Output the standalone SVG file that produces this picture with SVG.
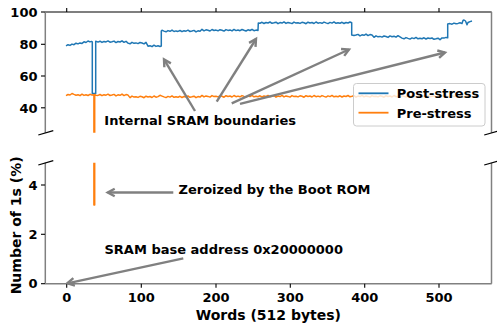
<svg xmlns="http://www.w3.org/2000/svg" width="497" height="327" viewBox="0 0 497 327">
<style>
text{font-family:"DejaVu Sans","Liberation Sans",sans-serif;font-weight:bold;fill:#000}
.tk{font-size:13px}
.tky{font-size:13px;text-anchor:end}
.tkx{font-size:13px;text-anchor:middle}
.ann{font-size:13px}
.lab{font-size:14px;text-anchor:middle}
.spg{stroke:#808080;stroke-width:1.5;fill:none}
.spk{stroke:#000;stroke-width:1.2;fill:none}
.tick{stroke:#000;stroke-width:1.1}
.brk{stroke:#000;stroke-width:1.2}
.blue{stroke:#1f77b4;stroke-width:1.5;fill:none;stroke-linejoin:round}
.orange{stroke:#ff7f0e;stroke-width:1.5;fill:none;stroke-linejoin:round}
.arr{stroke:#808080;stroke-width:2.4;fill:none;marker-end:url(#head)}
</style>
<defs>
<clipPath id="clipTop"><rect x="45" y="12" width="446.7" height="120.8"/></clipPath>
<clipPath id="clipBot"><rect x="45" y="162.8" width="446.7" height="121"/></clipPath>
<marker id="head" markerUnits="userSpaceOnUse" markerWidth="14" markerHeight="12" refX="0" refY="0" viewBox="-9 -6 11 12" orient="auto">
<path d="M-7,-3.8 L0,0 L-7,3.8" stroke="#808080" stroke-width="2.4" fill="none"/>
</marker>
</defs>
<rect width="497" height="327" fill="#fff"/>

<g id="top-axis">
<g clip-path="url(#clipTop)">
<polyline class="blue" points="66,45.8 68,44.7 70,45.4 72,44.1 74,44.7 76,43.2 78,43.9 80,42.9 82,43.4 84,41.8 86,42.5 88,41.0 90,41.9 91.5,41.4 92.3,41.8 92.3,93.5 95.7,93.5 95.7,41.2 97,41.6 98,42.1 100,41.2 102,42.4 104,41.4 106,41.9 108,40.9 110,42.2 112,41.7 114,41.1 116,42.6 118,41.5 120,42.0 122,40.8 124,42.3 126,41.3 128,43.1 130,43.8 132,42.3 134,43.3 136,42.9 138,43.6 140,42.5 142,43.0 144,43.9 146,42.4 148,46.2 150,45.7 152,46.7 154,45.2 156,46.4 158,45.8 160,46.5 161.3,46.0 161.3,31.0 162,30.3 164,31.1 166,31.8 168,30.6 170,31.3 172,30.1 174,31.5 176,30.9 178,31.4 180,30.5 182,31.7 184,30.7 186,31.2 188,30.2 190,31.5 192,31.0 194,30.4 196,31.9 198,30.8 200,31.3 202,29.3 204,30.8 206,29.8 208,30.3 210,31.0 212,29.5 214,30.5 216,30.1 218,30.8 220,29.7 222,30.2 224,31.1 226,29.6 228,30.4 230,29.9 232,30.9 234,29.4 236,30.6 238,30.0 240,30.7 242,29.5 244,30.3 246,31.0 248,29.8 250,30.5 252,29.3 254,30.7 256,30.1 258,30.4 258.3,23.0 260,23.2 262,22.3 264,23.5 266,22.5 268,23.0 270,22.0 272,23.3 274,22.8 276,22.2 278,23.7 280,22.6 282,23.1 284,21.9 286,23.4 288,22.4 290,22.9 292,23.6 294,22.1 296,23.1 298,22.7 300,23.4 302,22.3 304,22.8 306,23.7 308,22.2 310,23.0 312,22.5 314,23.5 316,22.0 318,23.2 320,22.6 322,23.3 324,22.1 326,22.9 328,23.6 330,22.4 332,23.1 334,21.9 336,23.3 338,22.7 340,23.2 342,22.3 344,23.5 346,22.5 348,23.0 350,22.0 351.7,22.8 351.7,35.0 354,35.5 356,35.0 358,34.4 360,35.9 362,34.8 364,35.3 366,34.1 368,35.6 370,34.6 372,35.1 374,37.3 376,35.8 378,36.8 380,36.4 382,37.1 384,36.0 386,36.5 388,37.4 390,35.9 392,36.7 394,36.2 396,37.2 398,35.7 400,36.9 402,38.1 404,38.8 406,37.6 408,38.4 410,39.1 412,37.9 414,38.6 416,37.4 418,38.8 420,38.2 422,38.7 424,37.8 426,39.0 428,38.0 430,38.5 432,38.0 434,39.3 436,38.8 438,38.2 440,39.7 442,37.9 444,38.1 446,37.4 447.7,37.8 447.7,24.0 450,23.6 452,24.2 454,23.1 456,23.8 458,23.4 460,22.8 462,23.5 463,20.5 464,20.0 465.5,21.0 467,24.8 468,22.5 470,21.6 472,21.0"/>
<polyline class="orange" points="66,95.6 68,94.5 70,95.0 72,93.5 74,94.4 76,95.2 78,94.7 80,95.7 82,94.2 84,95.4 86,94.8 88,95.5 90,94.3 92,95.1 93.5,94.8 93.9,95 93.9,140 94.7,140 94.7,94.5 96,95.3 98,95.4 100,94.5 102,95.7 104,94.7 106,95.2 108,94.2 110,95.5 112,95.0 114,94.4 116,95.9 118,94.8 120,95.3 122,94.1 124,95.6 126,94.6 128,95.1 130,97.6 132,96.1 134,97.1 136,96.7 138,97.4 140,96.3 142,96.8 144,97.7 146,96.2 148,97.0 150,96.5 152,97.5 154,96.0 156,97.2 158,96.6 160,95.3 162,96.1 164,96.9 166,97.6 168,96.4 170,97.1 172,95.9 174,97.3 176,96.7 178,97.2 180,96.3 182,97.5 184,96.5 186,97.0 188,96.0 190,97.3 192,96.8 194,96.2 196,97.7 198,96.6 200,97.1 202,95.4 204,96.9 206,95.9 208,96.4 210,97.1 212,95.6 214,96.6 216,96.2 218,96.9 220,95.8 222,96.3 224,97.2 226,95.7 228,96.5 230,96.0 232,97.0 234,95.5 236,96.7 238,96.1 240,96.8 242,95.6 244,96.4 246,97.1 248,95.9 250,96.6 252,95.4 254,96.8 256,96.2 258,96.7 260,95.8 262,97.0 264,96.0 266,96.5 268,95.5 270,96.8 272,96.3 274,95.7 276,97.2 278,96.1 280,96.6 282,95.4 284,96.9 286,95.9 288,96.4 290,97.1 292,95.6 294,96.6 296,96.2 298,96.9 300,95.8 302,96.3 304,97.2 306,95.7 308,96.5 310,96.0 312,97.0 314,95.5 316,96.7 318,96.1 320,96.8 322,95.6 324,96.4 326,97.1 328,95.9 330,96.6 332,95.4 334,96.8 336,96.2 338,96.7 340,95.8 342,97.0 344,96.0 346,96.5 348,95.5 350,96.8 352,96.3 354,95.7 356,97.2 358,96.1 360,96.6 362,95.4 364,96.9 366,95.9 368,96.4 370,97.1 372,95.6 374,96.6 376,96.2 378,96.9 380,95.8 382,96.3 384,97.2 386,95.7 388,96.5 390,96.0 392,97.0 394,95.5 396,96.7 398,96.1 400,96.8 402,95.6 404,96.4 406,97.1 408,95.9 410,96.6 412,95.4 414,96.8 416,96.2 418,96.7 420,95.8 422,97.0 424,96.0 426,96.5 428,95.5 430,96.8 432,96.3 434,95.7 436,97.2 438,96.1 440,96.6 442,95.4 444,96.9 446,95.9 448,96.4 450,97.1 452,95.6 454,96.6 456,96.2 458,96.9 460,95.8 462,96.3 464,97.2 466,95.7 468,96.5 470,96.0 472,97.0"/>
</g>
<line class="spk" x1="45" y1="12" x2="491.7" y2="12"/>
<line class="spg" x1="45.3" y1="12" x2="45.3" y2="132.8"/>
<line class="spg" x1="491.5" y1="12" x2="491.5" y2="132.8"/>
<g class="tick">
<line x1="66.7" y1="12" x2="66.7" y2="8"/>
<line x1="141.3" y1="12" x2="141.3" y2="8"/>
<line x1="216" y1="12" x2="216" y2="8"/>
<line x1="290.3" y1="12" x2="290.3" y2="8"/>
<line x1="364.7" y1="12" x2="364.7" y2="8"/>
<line x1="439" y1="12" x2="439" y2="8"/>
<line x1="45" y1="12" x2="41" y2="12"/>
<line x1="45" y1="44.3" x2="41" y2="44.3"/>
<line x1="45" y1="76" x2="41" y2="76"/>
<line x1="45" y1="107.8" x2="41" y2="107.8"/>
</g>
<text class="tky" x="37.5" y="16.7">100</text>
<text class="tky" x="37.5" y="49">80</text>
<text class="tky" x="37.5" y="80.7">60</text>
<text class="tky" x="37.5" y="112.5">40</text>
</g>

<g id="bottom-axis">
<g clip-path="url(#clipBot)">
<polyline class="orange" points="93.9,150 93.9,205 94.7,205 94.7,150"/>
</g>
<line class="spg" x1="45.3" y1="162.8" x2="45.3" y2="283.7"/>
<line class="spg" x1="491.5" y1="162.8" x2="491.5" y2="283.7"/>
<line class="spg" x1="45" y1="283.7" x2="491.7" y2="283.7"/>
<g class="tick">
<line x1="66.7" y1="283.7" x2="66.7" y2="287.7"/>
<line x1="141.3" y1="283.7" x2="141.3" y2="287.7"/>
<line x1="216" y1="283.7" x2="216" y2="287.7"/>
<line x1="290.3" y1="283.7" x2="290.3" y2="287.7"/>
<line x1="364.7" y1="283.7" x2="364.7" y2="287.7"/>
<line x1="439" y1="283.7" x2="439" y2="287.7"/>
<line x1="45" y1="185" x2="41" y2="185"/>
<line x1="45" y1="234.3" x2="41" y2="234.3"/>
<line x1="45" y1="283.7" x2="41" y2="283.7"/>
</g>
<text class="tky" x="37.5" y="189.7">4</text>
<text class="tky" x="37.5" y="239">2</text>
<text class="tky" x="37.5" y="288.4">0</text>
<text class="tkx" x="66.7" y="301.5">0</text>
<text class="tkx" x="141.3" y="301.5">100</text>
<text class="tkx" x="216" y="301.5">200</text>
<text class="tkx" x="290.3" y="301.5">300</text>
<text class="tkx" x="364.7" y="301.5">400</text>
<text class="tkx" x="439" y="301.5">500</text>
</g>

<g id="breaks" class="brk">
<line x1="38.3" y1="135" x2="53.3" y2="130.7"/>
<line x1="38.3" y1="165" x2="53.3" y2="160.7"/>
<line x1="484.2" y1="135" x2="499.2" y2="130.7"/>
<line x1="484.2" y1="165" x2="499.2" y2="160.7"/>
</g>

<g id="axis-labels">
<text class="lab" x="268.4" y="320">Words (512 bytes)</text>
<text class="lab" transform="translate(20.5,225.4) rotate(-90)">Number of 1s (%)</text>
</g>

<g id="legend">
<rect x="353.5" y="83.5" width="131.5" height="42.5" rx="3" fill="#fff" fill-opacity="0.8" stroke="#cccccc" stroke-width="1"/>
<line x1="358.5" y1="93.3" x2="388.5" y2="93.3" stroke="#1f77b4" stroke-width="1.8"/>
<text class="tk" x="396.7" y="98.3">Post-stress</text>
<line x1="358.5" y1="112.7" x2="388.5" y2="112.7" stroke="#ff7f0e" stroke-width="1.8"/>
<text class="tk" x="396.7" y="117.7">Pre-stress</text>
</g>

<g id="connectors">
<line class="arr" x1="195" y1="111" x2="164" y2="59.3"/>
<line class="arr" x1="216.7" y1="101.7" x2="256" y2="39"/>
<line class="arr" x1="231.7" y1="103.3" x2="349" y2="49.5"/>
<line class="arr" x1="240" y1="103.8" x2="445" y2="52.5"/>
<line class="arr" x1="173.3" y1="192.5" x2="107.7" y2="192.5"/>
<line class="arr" x1="183.3" y1="258.3" x2="67.3" y2="283.3"/>
</g>

<g id="label-boundaries"><text class="ann" x="104.3" y="125">Internal SRAM boundaries</text></g>
<g id="label-zeroized"><text class="ann" x="178.5" y="194">Zeroized by the Boot ROM</text></g>
<g id="label-base"><text class="ann" x="104.5" y="254">SRAM base address 0x20000000</text></g>
</svg>
